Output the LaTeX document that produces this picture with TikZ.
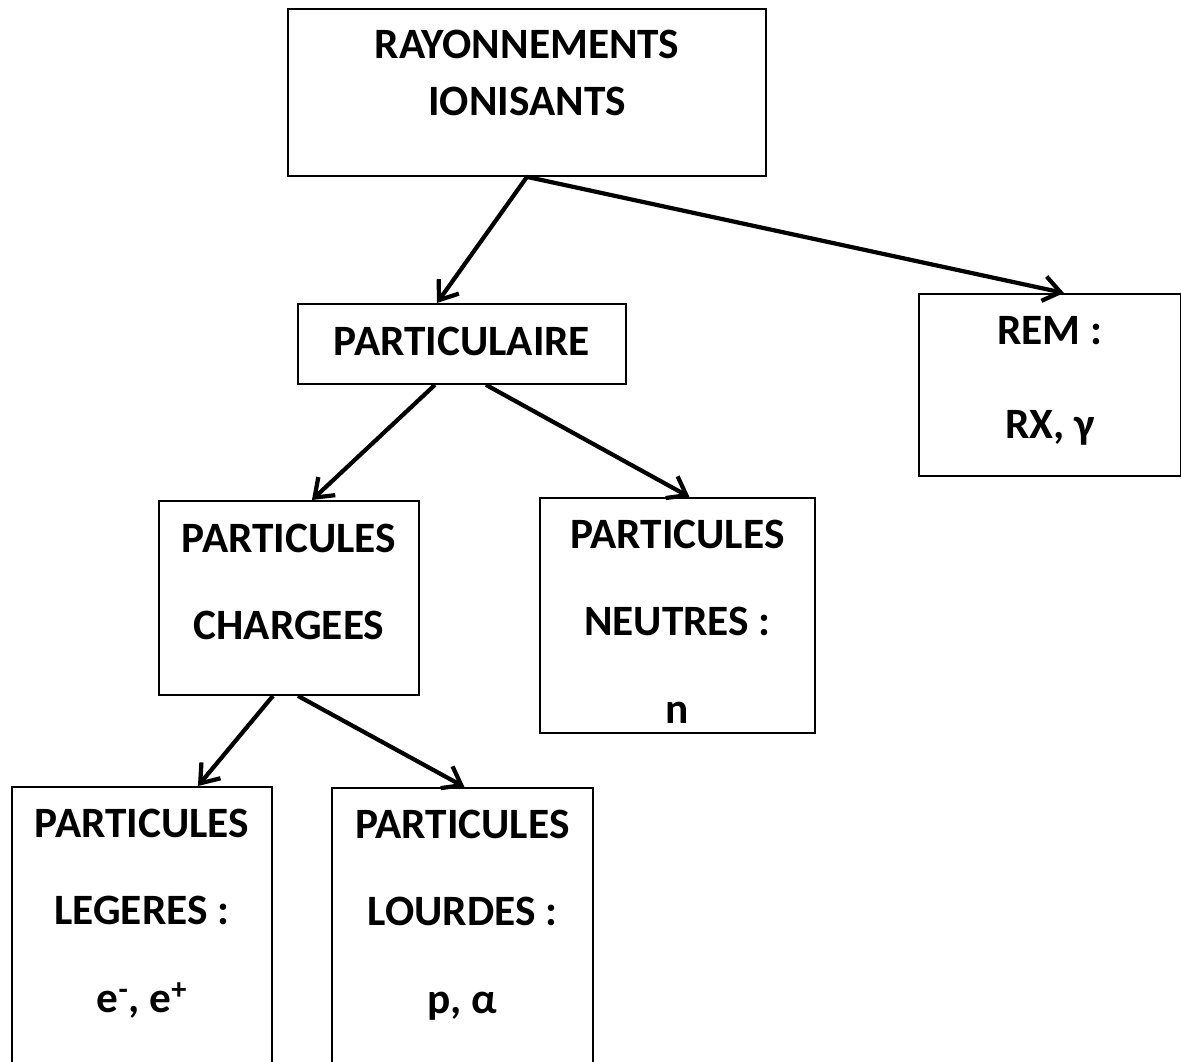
\documentclass[tikz,border=0pt]{standalone}
\usepackage{fontspec}
\setmainfont{Carlito}
\usetikzlibrary{arrows.meta,calc}
\tikzset{
	ibox/.style={draw, line width=1.3pt, rectangle, anchor=north west, inner sep=0pt, align=flush center, font=\bfseries\fontsize{30.8pt}{61.9pt}\selectfont},
	ifleche/.style={line width=3pt, -{Straight Barb[length=0.42cm, width=0.62cm]}}
}
\begin{document}
\begin{tikzpicture}[x=0.025cm, y=-0.025cm]
	\useasboundingbox (0,0) rectangle (1181,1062);
	\node[ibox, text width=11.95cm, text height=1.25cm, text depth=2.925cm, font=\bfseries\fontsize{30.8pt}{40.5pt}\selectfont] (rayon) at (287, 8) {RAYONNEMENTS\\IONISANTS};
	\node[ibox, text width=8.2cm, text height=1.3cm, text depth=0.7cm] (partic) at (297, 303) {PARTICULAIRE};
	\node[ibox, text width=6.55cm, text height=1.275cm, text depth=3.275cm, font=\bfseries\fontsize{30.8pt}{66.2pt}\selectfont] (rem) at (918, 293) {REM :\\RX, γ};
	\node[ibox, text width=6.5cm, text height=1.3cm, text depth=3.55cm] (charg) at (158, 500) {PARTICULES\\CHARGEES};
	\node[ibox, text width=6.875cm, text height=1.275cm, text depth=4.6cm] (neutre) at (539, 497) {PARTICULES\\NEUTRES :\\n};
	\node[ibox, text width=6.5cm, text height=1.275cm, text depth=5.95cm] (leger) at (11, 786) {PARTICULES\\LEGERES :\\e\textsuperscript{-}, e\textsuperscript{+}};
	\node[ibox, text width=6.525cm, text height=1.275cm, text depth=5.925cm] (lourd) at (331, 787) {PARTICULES\\LOURDES :\\p, α};
	\draw[ifleche] (rayon.south) to ($(partic.north)+(-25,0)$);
	\draw[ifleche] (rayon.south) to ($(rem.north)+(14,0)$);
	\draw[ifleche] ($(partic.south)+(-27,0)$) to ($(charg.north)+(23,0)$);
	\draw[ifleche] ($(partic.south)+(24,0)$) to ($(neutre.north)+(12,0)$);
	\draw[ifleche] ($(charg.south)+(-16,0)$) to ($(leger.north)+(56,0)$);
	\draw[ifleche] ($(charg.south)+(9,0)$) to ($(lourd.north)+(2,0)$);
\end{tikzpicture}
\end{document}
